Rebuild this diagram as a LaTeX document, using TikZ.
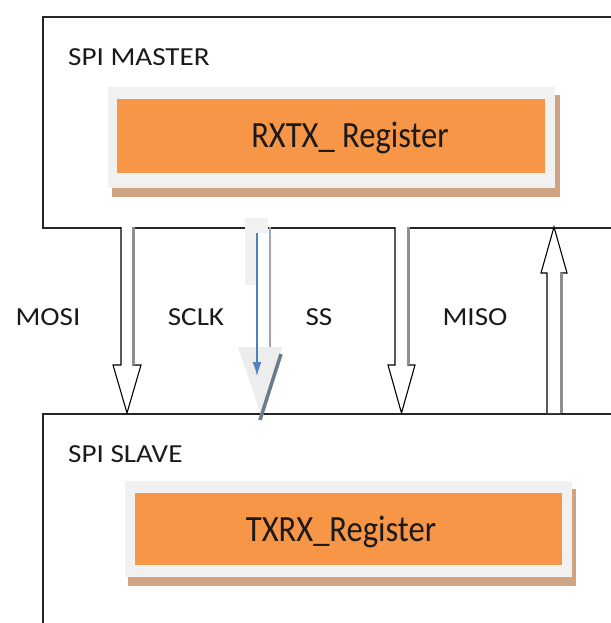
\documentclass[tikz,border=0pt]{standalone}
\usepackage{fontspec}
\setmainfont{Carlito}
\usetikzlibrary{arrows.meta,calc}
\definecolor{regorange}{HTML}{F79646}
\definecolor{framegray}{HTML}{F1F1F1}
\definecolor{shadowtan}{HTML}{CFA483}
\definecolor{edgegray}{HTML}{8E8E8E}
\definecolor{sclkblue}{HTML}{4F81BD}
\definecolor{slate}{HTML}{6A7B8E}
\definecolor{slatelight}{HTML}{9AA6B3}
\definecolor{txt}{HTML}{1A1A1A}
\newcommand{\sxt}[1]{\scalebox{1.12}[1]{#1}}
\newcommand{\rxt}[1]{\scalebox{0.88}[1]{#1}}
\begin{document}
\begin{tikzpicture}[x=1pt,y=-1pt,
  blockbox/.style={draw=black!85, line width=1.6pt, fill=white, inner sep=0pt, anchor=north west},
  smalltext/.style={font=\fontsize{26}{30}\selectfont, text=txt, inner sep=0pt},
  regtext/.style={font=\fontsize{37}{42}\selectfont, text=txt, inner sep=0pt, anchor=base},
  hollowarrow/.style={draw=black, line width=1.1pt, fill=white, line join=miter},
  arrowshade/.style={draw=edgegray, line width=2.4pt},
]
\useasboundingbox (0,0) rectangle (610,623);

% boxes
\node[blockbox, minimum width=620pt, minimum height=211pt] (master) at (42,16) {};
\node[blockbox, minimum width=620pt, minimum height=260pt] (slave) at (42,413) {};

% master register
\fill[framegray] (108,87) rectangle (555,188);
\fill[shadowtan] (555,95) rectangle (560,197);
\fill[shadowtan] (112,188) rectangle (560,197);
\node[fill=regorange, inner sep=0pt, minimum width=428pt, minimum height=74pt, anchor=north west] (rxreg) at (117,99) {};
\node[regtext] (rxlbl) at (350,147) {\rxt{RXTX\_ Register}};

% slave register
\fill[framegray] (125,481) rectangle (572,577);
\fill[shadowtan] (572,489) rectangle (576,586);
\fill[shadowtan] (128,577) rectangle (576,586);
\node[fill=regorange, inner sep=0pt, minimum width=427pt, minimum height=72pt, anchor=north west] (txreg) at (135,493) {};
\node[regtext] (txlbl) at (341,541) {\rxt{TXRX\_Register}};

% titles
\node[smalltext, anchor=base west] (mtitle) at (68,66) {\sxt{SPI MASTER}};
\node[smalltext, anchor=base west] (stitle) at (68,462) {\sxt{SPI SLAVE}};

% coordinates for connectors
\coordinate (mosiT) at (127,227);
\coordinate (mosiB) at (127,413);
\coordinate (ssT) at (401.5,227);
\coordinate (ssB) at (401.5,413);
\coordinate (misoT) at (554,227);
\coordinate (misoB) at (554,413);
\coordinate (sclkT) at (257,233);
\coordinate (sclkB) at (257,376);
\coordinate (sclkR) at (270,227);
\coordinate (sclkRb) at (270,347);

% MOSI
\draw[hollowarrow] ($(mosiT)+(-6,0)$) -- ($(mosiB)+(-6,-48)$) -- ($(mosiB)+(-14,-48)$) -- (mosiB) -- ($(mosiB)+(14,-48)$) -- ($(mosiB)+(6,-48)$) -- ($(mosiT)+(6,0)$);
\draw[arrowshade] ($(mosiT)+(6.5,0)$) -- ($(mosiB)+(6.5,-48)$);

% SS
\draw[hollowarrow] ($(ssT)+(-6.5,0)$) -- ($(ssB)+(-6.5,-48)$) -- ($(ssB)+(-13.5,-48)$) -- (ssB) -- ($(ssB)+(13.5,-48)$) -- ($(ssB)+(6.5,-48)$) -- ($(ssT)+(6.5,0)$);
\draw[arrowshade] ($(ssT)+(7,0)$) -- ($(ssB)+(7,-48)$);

% MISO
\draw[hollowarrow] ($(misoB)+(-7,0)$) -- ($(misoT)+(-7,46)$) -- ($(misoT)+(-13,46)$) -- (misoT) -- ($(misoT)+(13,46)$) -- ($(misoT)+(7,46)$) -- ($(misoB)+(7,0)$);
\draw[arrowshade] ($(misoT)+(7.5,46)$) -- ($(misoB)+(7.5,0)$);

% SCLK
\fill[framegray] (245,218) rectangle (268,233);
\fill[framegray] (245,233) rectangle (256,285);
\fill[black!7] (238,347) -- (282,347) -- (262,418) -- cycle;
\draw[slatelight, line width=2.5pt] (sclkR) -- (sclkRb);
\draw[sclkblue, line width=1.4pt, -{Latex[length=14pt,width=9pt]}] (sclkT) -- (sclkB);
\draw[slate, line width=3.5pt] (281,354) -- (260,420);

% labels
\node[smalltext, anchor=base] (lmosi) at (48,325) {\sxt{MOSI}};
\node[smalltext, anchor=base] (lsclk) at (196,325) {\sxt{SCLK}};
\node[smalltext, anchor=base] (lss) at (319,325) {\sxt{SS}};
\node[smalltext, anchor=base] (lmiso) at (475,325) {\sxt{MISO}};
\end{tikzpicture}
\end{document}
